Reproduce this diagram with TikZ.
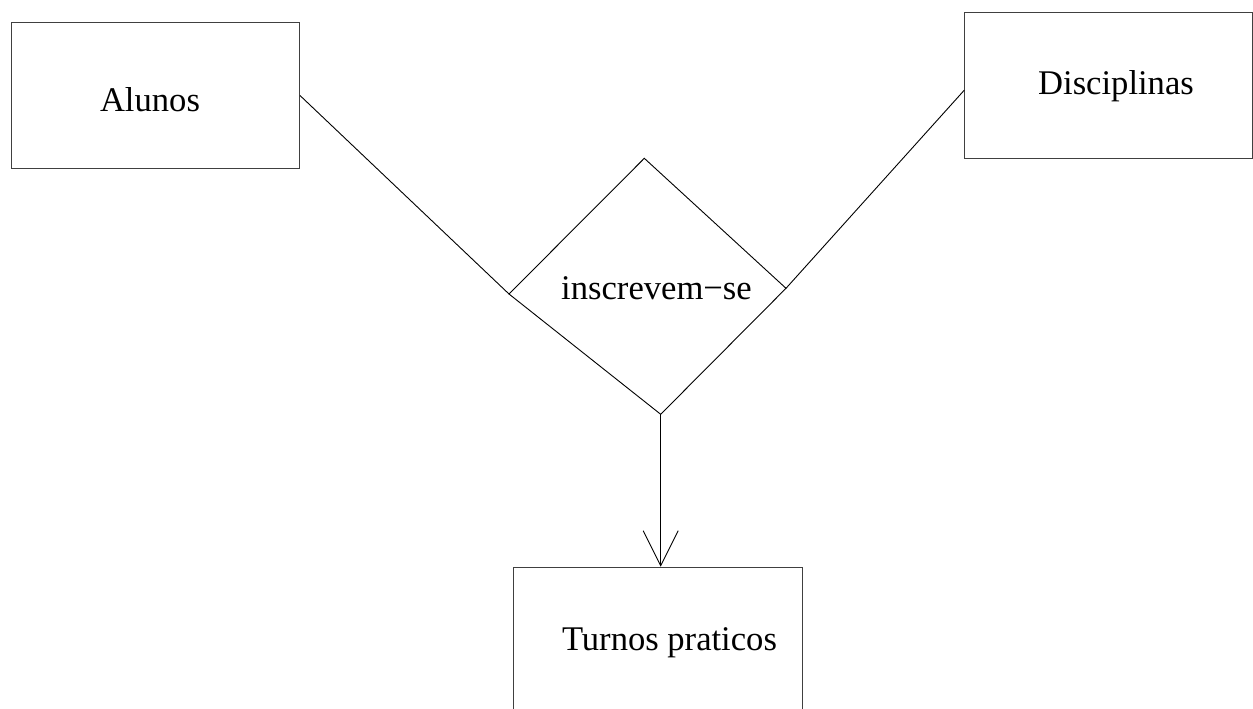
\documentclass[tikz,border=0pt]{standalone}
\usepackage{fontspec}
\setmainfont{Liberation Serif}
\usetikzlibrary{arrows.meta}
\begin{document}
\begin{tikzpicture}[x=1pt,y=-1pt,
  entbox/.style={draw=black!75,line width=1pt,rectangle,inner sep=0,anchor=north west},
  lbl/.style={inner sep=0,anchor=base,font=\fontsize{34.6}{40}\selectfont},
  conn/.style={line width=0.9pt,black}]
\useasboundingbox (0,0) rectangle (1253,709);
\fill[white] (0,0) rectangle (1253,709);
% entity boxes
\node[entbox,minimum width=288.3pt,minimum height=146.6pt] (alunos) at (10.7,21.7) {};
\node[entbox,minimum width=288pt,minimum height=145.7pt] (disc) at (964.3,12) {};
\node[entbox,minimum width=288.4pt,minimum height=160pt] (turnos) at (513.3,566.7) {};
% labels
\node[lbl] (talunos) at (150,111.7) {Alunos};
\node[lbl] (tdisc) at (1116,95) {Disciplinas};
\node[lbl] (tturnos) at (669.5,650.7) {Turnos praticos};
% relationship diamond
\coordinate (dtop) at (644.3,158.3);
\coordinate (dleft) at (509,294);
\coordinate (dright) at (786,288.3);
\coordinate (dbot) at (660.7,414.3);
\draw[conn] (dtop) -- (dright) -- (dbot) -- (dleft) -- cycle;
\node[lbl] (trel) at (656.5,299.3) {inscrevem−se};
% connectors
\draw[conn] (alunos.east) -- (dleft);
\draw[conn] ([yshift=-4.8pt]disc.west) -- (dright);
\coordinate (tin) at (660.7,566.7);
\draw[conn,-{Straight Barb[length=35pt,width=35pt,line width=0.9pt]}] (dbot) -- (tin);
\end{tikzpicture}
\end{document}
